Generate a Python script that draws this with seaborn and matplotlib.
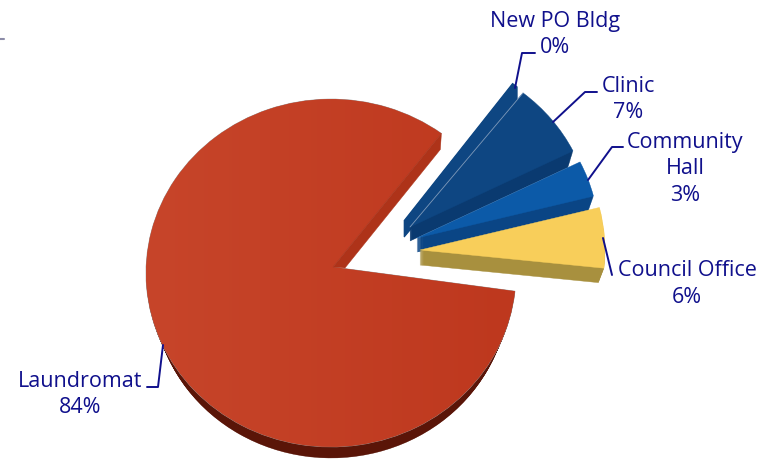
import numpy as np
import matplotlib
matplotlib.use("Agg")
import matplotlib.pyplot as plt
from matplotlib.colors import LinearSegmentedColormap
from matplotlib.patches import PathPatch, Wedge
from matplotlib.path import Path
from matplotlib.transforms import Affine2D
import seaborn as sns

# Share of spending per project, in percent
projects = ["Council Office", "Community\nHall", "Clinic", "New PO Bldg", "Laundromat"]
shares = [5.6, 3.4, 7.0, 0.49, 83.51]

# Colours of top faces and extruded sides
top_colors = ["#F8CE5A", "#0C5AA8", "#0E4682", "#0E4682", "#C03D22"]
side_colors = ["#A8903E", "#0A4585", "#0A3A70", "#0E4682", "#5A1508"]
notch_wall = "#AE3319"
ink = "#10108C"

W, H = 760, 459
SQUASH = 0.94      # vertical foreshortening of the tilted pie
START = -6.0


def sy(py):
    """Pixel row to y position on the foreshortened axes."""
    return (H - py) / SQUASH


sns.set_theme(style="white")
plt.rcParams["font.family"] = ["Open Sans", "DejaVu Sans"]

fig = plt.figure(figsize=(W / 100, H / 100), dpi=100)
ax = fig.add_axes([0, 0, 1, 1])

wedges, _ = ax.pie(shares, radius=185, startangle=START,
                   colors=sns.color_palette(top_colors), wedgeprops={"linewidth": 0})

# Slice placement: pivot of the circle, radius, draw order, extrusion and base shrink
centers = [(420, 250), (417, 238), (410, 227), (404, 221), (331, 273)]
radii = [185, 182, 182, 182, 185]
orders = [40, 30, 20, 10, 5]
depths = [15, 14, 14, 16, 18]
shrink = [0.97, 0.97, 0.97, 1.0, 0.96]
edge_widths = [0.3, 0.3, 0.3, 1.0, 0.3]
BODY_TIP = (333, 267)
BODY_RIM_FROM = 170


def outline(center, radius, t1, t2, apex=None):
    """Path of a pie slice, optionally with its tip moved to apex."""
    path = Wedge(center, radius, t1, t2).get_path()
    v = path.vertices.copy()
    if apex is not None:
        v[np.hypot(v[:, 0] - center[0], v[:, 1] - center[1]) < 1e-6] = apex
    return Path(v, path.codes)


def extrude(path, center, depth, scale, color, z, lw):
    """Stack copies of a slice downward, narrowing toward the base."""
    for d in np.arange(depth, 0, -1.0):
        s = 1 - (1 - scale) * d / depth
        tf = (Affine2D().translate(-center[0], -center[1]).scale(s)
              .translate(center[0], center[1] - d / SQUASH))
        ax.add_patch(PathPatch(path.transformed(tf), fc=color, ec=color, lw=lw, zorder=z))


for i, w in enumerate(wedges):
    c = (centers[i][0], sy(centers[i][1]))
    w.set_visible(False)
    is_body = i == len(wedges) - 1
    apex = (BODY_TIP[0], sy(BODY_TIP[1])) if is_body else None
    path = outline(c, radii[i], w.theta1, w.theta2, apex)
    # The big slice only shows its rim along the lower arc
    rim = outline(c, radii[i], BODY_RIM_FROM, w.theta2) if is_body else path
    extrude(rim, c, depths[i], shrink[i], side_colors[i], orders[i], edge_widths[i])

    patch = PathPatch(path, fc=top_colors[i], ec="#9A9A9A" if is_body else top_colors[i],
                      lw=0.5 if is_body else edge_widths[i], zorder=orders[i] + 2)
    ax.add_patch(patch)

    t1 = np.radians(w.theta1)
    t2 = np.radians(w.theta2)
    if is_body:
        # Soft left-to-right shading over the top face
        cmap = LinearSegmentedColormap.from_list("body", ["#C7452A", "#BE381E"])
        img = ax.imshow(np.linspace(0, 1, 256).reshape(1, -1), cmap=cmap,
                        extent=(146, 516, 0, H / SQUASH), aspect="auto", zorder=orders[i] + 2.5)
        img.set_clip_path(patch)
        # Inner wall visible below the upper notch edge
        tip = (c[0] + radii[i] * np.cos(t1), c[1] + radii[i] * np.sin(t1))
        ax.fill([apex[0], tip[0], tip[0] - 1, apex[0] + 12],
                [apex[1], tip[1], tip[1] - 16 / SQUASH, apex[1] - 1 / SQUASH],
                color=notch_wall, lw=0.3, zorder=orders[i] + 3)
    if projects[i] == "Clinic":
        # Pale seam along the edge shared with the next slice
        ax.plot([c[0], c[0] + radii[i] * np.cos(t2)], [c[1], c[1] + radii[i] * np.sin(t2)],
                color="#7F9ABA", lw=0.6, zorder=orders[i] + 3)

ax.set_aspect("auto")
ax.set_xlim(0, W)
ax.set_ylim(0, H / SQUASH)
ax.axis("off")

# Leader lines
leaders = [
    ([603, 612], [238, 275]),
    ([623, 612, 588], [147, 147, 180]),
    ([597, 585, 553], [92, 92, 122]),
    ([535, 522, 515], [53, 53, 88]),
    ([147, 158, 163], [387, 387, 345]),
]
for xs, ys in leaders:
    ax.plot(xs, [sy(p) for p in ys], color=ink, lw=1.4, zorder=60, solid_joinstyle="round")

# Labels
label_pos = [(687, 284), (685, 169), (628, 99.5), (555, 34.5), (80, 394.5)]
for name, value, (x, py) in zip(projects, shares, label_pos):
    ax.text(x, sy(py), f"{name}\n{value:.0f}%", ha="center", va="center", color=ink,
            fontsize=15.5, linespacing=1.34, zorder=70)

# Small rule at the left margin
ax.plot([0, 4], [sy(39), sy(39)], color="#8C8CA8", lw=1.5, zorder=1)

fig.savefig("out.png", dpi=100, facecolor="white")
